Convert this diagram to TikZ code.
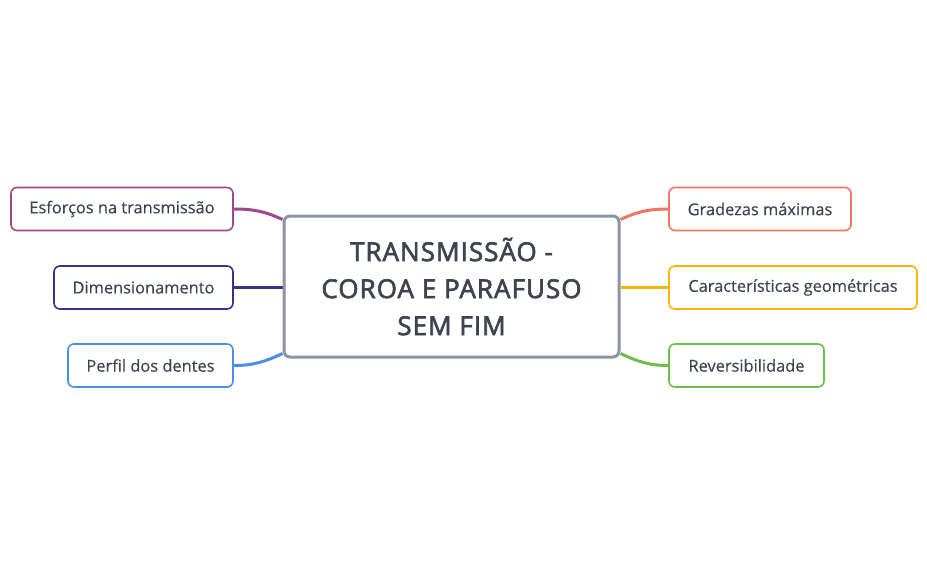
\documentclass[tikz,border=0pt]{standalone}
\usepackage{fontspec}
\setmainfont{Open Sans}
\newfontfamily\rootfont{Open Sans}[FakeBold=2.5,LetterSpace=4]
\newfontfamily\topicfont{Open Sans}[FakeBold=0.3]
\usepackage{tikz}
\usetikzlibrary{backgrounds}

\definecolor{textgray}{HTML}{3D4451}
\definecolor{rootgray}{HTML}{8A95A6}
\definecolor{cpurple}{HTML}{A0488E}
\definecolor{cindigo}{HTML}{3F2E8F}
\definecolor{cblue}{HTML}{4A8FE0}
\definecolor{csalmon}{HTML}{F47462}
\definecolor{camber}{HTML}{F8B500}
\definecolor{cgreen}{HTML}{6CC04A}

\begin{document}
\begin{tikzpicture}[x=1pt,y=-1pt,
  topic/.style={draw,line width=1.6pt,rounded corners=6pt,fill=white,text=textgray,
    minimum height=43pt,inner sep=0pt,font=\topicfont\fontsize{16.4}{20}\selectfont},
  branch/.style={line width=3pt}]
  \useasboundingbox (0,0) rectangle (927,574);

  \node[draw=rootgray,line width=3pt,rounded corners=6pt,fill=white,text=textgray,
    minimum width=335pt,minimum height=141pt,align=center,
    font=\rootfont\fontsize{26}{37}\selectfont] (root) at (451.5,286.5)
    {TRANSMISSÃO -\\COROA E PARAFUSO\\SEM FIM};

  \node[topic,draw=cpurple,minimum width=222pt] (esf) at (122,209) {Esforços na transmissão};
  \node[topic,draw=cindigo,minimum width=179pt] (dim) at (143.5,287.5) {Dimensionamento};
  \node[topic,draw=cblue,minimum width=165pt] (perf) at (150.5,365.5) {Perfil dos dentes};
  \node[topic,draw=csalmon,minimum width=182pt] (grad) at (760,209) {Gradezas máximas};
  \node[topic,draw=camber,minimum width=248pt] (carac) at (793,287.5) {Características geométricas};
  \node[topic,draw=cgreen,minimum width=155pt] (rev) at (746.5,365.5) {Reversibilidade};

  \begin{scope}[on background layer]
  \path[branch,draw=cpurple] (esf.east) to[out=0,in=155] ([yshift=-5pt]root.north west);
  \path[branch,draw=cindigo] (dim.east) -- (root.west |- dim.east);
  \path[branch,draw=cblue] (perf.east) to[out=0,in=-155] ([yshift=5pt]root.south west);
  \path[branch,draw=csalmon] (grad.west) to[out=180,in=25] ([yshift=-5pt]root.north east);
  \path[branch,draw=camber] (carac.west) -- (root.east |- carac.west);
  \path[branch,draw=cgreen] (rev.west) to[out=180,in=-25] ([yshift=5pt]root.south east);
  \end{scope}

  \end{tikzpicture}
\end{document}
